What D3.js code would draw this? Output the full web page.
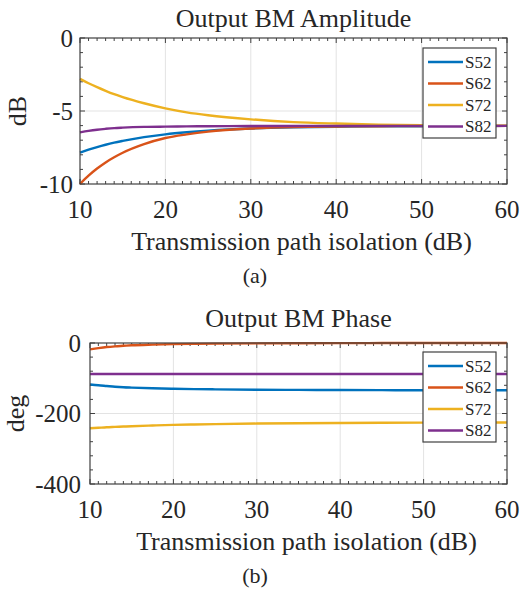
<!DOCTYPE html>
<html>
<head>
<meta charset="utf-8">
<script src="https://cdn.jsdelivr.net/npm/d3@7"></script>
<style>
  html, body { margin: 0; padding: 0; background: #fff; }
  svg { display: block; }
  text { font-family: "Liberation Serif", "Times New Roman", serif; fill: #262626; }
</style>
</head>
<body>
<svg id="fig" width="532" height="594"></svg>
<script>
// Transmission path isolation (dB), shared x values of every series
const isolation = [10, 11, 12, 13, 14, 15, 17.5, 20, 22.5, 25, 30, 35, 40, 45, 50, 55, 60];

// Output BM amplitude (dB)
const ampS52 = [-7.85, -7.65, -7.47, -7.31, -7.17, -7.05, -6.79, -6.60, -6.46, -6.35, -6.20, -6.12, -6.08, -6.05, -6.04, -6.03, -6.02];
const ampS62 = [-10.0, -9.43, -8.94, -8.52, -8.17, -7.86, -7.27, -6.85, -6.60, -6.41, -6.20, -6.10, -6.06, -6.04, -6.03, -6.03, -6.02];
const ampS72 = [-2.80, -3.10, -3.37, -3.62, -3.85, -4.05, -4.47, -4.82, -5.09, -5.29, -5.57, -5.76, -5.86, -5.93, -5.97, -5.99, -6.01];
const ampS82 = [-6.46, -6.36, -6.28, -6.22, -6.17, -6.14, -6.09, -6.07, -6.055, -6.045, -6.03, -6.025, -6.02, -6.02, -6.02, -6.02, -6.02];

// Output BM phase (deg)
const phS52 = [-117.5, -120, -122, -124, -125.5, -126.5, -128.5, -129.8, -130.8, -131.5, -132.5, -133, -133.5, -133.8, -134, -134, -134];
const phS62 = [-18, -14.5, -11.5, -9.5, -8, -6.5, -4.5, -3.2, -2.4, -1.8, -1, -0.6, -0.3, -0.2, -0.1, -0.05, 0];
const phS72 = [-242, -240.5, -239, -238, -237, -236, -234, -232.2, -231, -230, -228.5, -227.5, -226.8, -226.3, -226, -225.7, -225.5];
const phS82 = [-88, -88, -88, -88, -88, -88, -88, -88, -88, -88, -88, -88, -88, -88, -88, -88, -88];

const seriesNames = ["S52", "S62", "S72", "S82"];
const seriesColors = ["#0072BD", "#D95319", "#EDB120", "#7E2F8E"];

const xTicks = [10, 20, 30, 40, 50, 60];
const ampTicks = [0, -5, -10];
const phaseTicks = [0, -200, -400];

const svg = d3.select("#fig");

function drawPanel(cfg) {
  const { left, right, top, bottom } = cfg.box;
  const x = d3.scaleLinear().domain([10, 60]).range([left, right]);
  const y = d3.scaleLinear().domain(cfg.yDomain).range([bottom, top]);
  const g = svg.append("g");

  // grid
  g.append("g").selectAll("line").data(xTicks.slice(1, -1)).join("line")
    .attr("x1", d => x(d)).attr("x2", d => x(d)).attr("y1", top).attr("y2", bottom)
    .attr("stroke", "#e3e3e3").attr("stroke-width", 1);
  g.append("g").selectAll("line").data(cfg.yTicks.slice(1, -1)).join("line")
    .attr("y1", d => y(d)).attr("y2", d => y(d)).attr("x1", left).attr("x2", right)
    .attr("stroke", "#e3e3e3").attr("stroke-width", 1);

  // inward ticks on all four sides (major + minor)
  const xMinor = d3.range(10, 61, 1);
  const yMinor = d3.range(cfg.yDomain[0], cfg.yDomain[1] + 1e-9, cfg.yMinorStep);
  const tk = g.append("g").attr("stroke", "#404040").attr("stroke-width", 1);
  xMinor.forEach(v => {
    const len = xTicks.includes(v) ? 5 : 3;
    tk.append("line").attr("x1", x(v)).attr("x2", x(v)).attr("y1", bottom).attr("y2", bottom - len);
    tk.append("line").attr("x1", x(v)).attr("x2", x(v)).attr("y1", top).attr("y2", top + len);
  });
  yMinor.forEach(v => {
    const len = cfg.yTicks.some(t => Math.abs(t - v) < 1e-9) ? 5 : 3;
    tk.append("line").attr("y1", y(v)).attr("y2", y(v)).attr("x1", left).attr("x2", left + len);
    tk.append("line").attr("y1", y(v)).attr("y2", y(v)).attr("x1", right).attr("x2", right - len);
  });

  // lines
  const line = d3.line().x(d => x(d[0])).y(d => y(d[1])).curve(d3.curveMonotoneX);
  cfg.series.forEach((vals, i) => {
    g.append("path").datum(isolation.map((xv, j) => [xv, vals[j]]))
      .attr("d", line).attr("fill", "none")
      .attr("stroke", seriesColors[i]).attr("stroke-width", 2.4)
      .attr("stroke-linejoin", "round");
  });

  // axes box
  g.append("rect").attr("x", left).attr("y", top)
    .attr("width", right - left).attr("height", bottom - top)
    .attr("fill", "none").attr("stroke", "#404040").attr("stroke-width", 1.2);

  // tick labels
  g.append("g").selectAll("text").data(xTicks).join("text")
    .attr("x", d => x(d)).attr("y", bottom + 34)
    .attr("text-anchor", "middle").attr("font-size", 25).text(d => d);
  g.append("g").selectAll("text").data(cfg.yTicks).join("text")
    .attr("x", left - cfg.yLabelGap).attr("y", d => y(d))
    .attr("dy", "0.35em").attr("text-anchor", "end").attr("font-size", 25).text(d => d);

  // title and axis labels
  g.append("text").attr("x", (left + right) / 2).attr("y", cfg.titleY)
    .attr("text-anchor", "middle").attr("font-size", 26).text(cfg.title);
  g.append("text").attr("x", (left + right) / 2 + 8).attr("y", bottom + 66)
    .attr("text-anchor", "middle").attr("font-size", 26).text("Transmission path isolation (dB)");
  g.append("text")
    .attr("transform", `translate(${cfg.yTitleX},${(top + bottom) / 2}) rotate(-90)`)
    .attr("text-anchor", "middle").attr("font-size", 26).text(cfg.yTitle);
  g.append("text").attr("x", 255).attr("y", bottom + 99)
    .attr("text-anchor", "middle").attr("font-size", 22).text(cfg.caption);

  // legend
  const lg = g.append("g").attr("transform", `translate(${cfg.legend[0]},${cfg.legend[1]})`);
  lg.append("rect").attr("width", 73).attr("height", 90)
    .attr("fill", "#fff").attr("stroke", "#404040").attr("stroke-width", 1.2);
  seriesNames.forEach((name, i) => {
    const yy = 14 + i * 21.5;
    lg.append("line").attr("x1", 5).attr("x2", 40).attr("y1", yy).attr("y2", yy)
      .attr("stroke", seriesColors[i]).attr("stroke-width", 2.4);
    lg.append("text").attr("x", 42).attr("y", yy).attr("dy", "0.35em")
      .attr("font-size", 17).text(name);
  });
}

drawPanel({
  box: { left: 80, right: 507, top: 38, bottom: 184 },
  yDomain: [-10, 0], yTicks: ampTicks, yMinorStep: 1, yLabelGap: 7,
  series: [ampS52, ampS62, ampS72, ampS82],
  title: "Output BM Amplitude", titleY: 27,
  yTitle: "dB", yTitleX: 26, caption: "(a)",
  legend: [423, 48]
});

drawPanel({
  box: { left: 90, right: 507, top: 343, bottom: 484 },
  yDomain: [-400, 0], yTicks: phaseTicks, yMinorStep: 40, yLabelGap: 9,
  series: [phS52, phS62, phS72, phS82],
  title: "Output BM Phase", titleY: 327,
  yTitle: "deg", yTitleX: 24, caption: "(b)",
  legend: [423, 352]
});
</script>
</body>
</html>
